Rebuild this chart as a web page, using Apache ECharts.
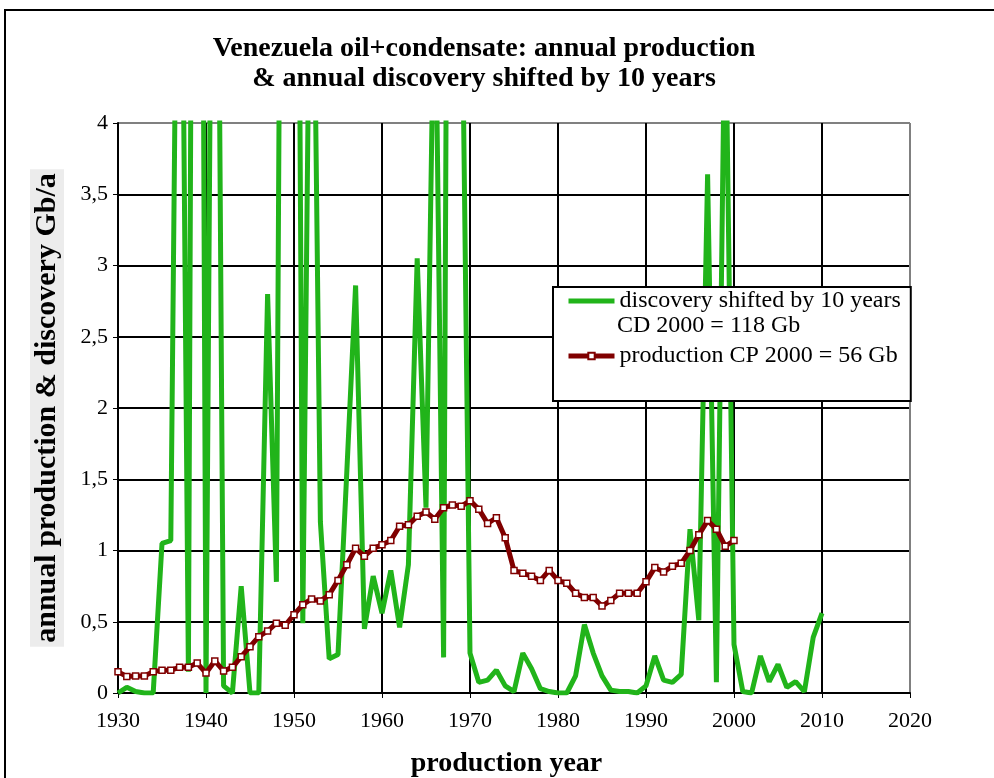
<!DOCTYPE html>
<html>
<head>
<meta charset="utf-8">
<script src="https://cdn.jsdelivr.net/npm/echarts@6/dist/echarts.min.js"></script>
<style>
  html, body { margin: 0; padding: 0; background: #fff; }
  #chart { width: 994px; height: 778px; }
</style>
</head>
<body>
<div id="chart"></div>
<script>
// years on the x axis
var discYears = [];
for (var y = 1930; y <= 2010; y++) discYears.push(y);
var prodYears = [];
for (var y2 = 1930; y2 <= 2000; y2++) prodYears.push(y2);

// annual discovery shifted by 10 years, Gb/a (values above 4 run off the top)
var discovery = [
  0.0, 0.04, 0.01, 0.0, 0.0, 1.05, 1.07, 7.5, 0.15, 15,
  0.0, 9, 0.05, 0.0, 0.75, 0.0, 0.0, 2.8, 0.78, 11.7,
  11.5, 0.49, 6.5, 1.2, 0.24, 0.27, 1.55, 2.86, 0.45, 0.82,
  0.56, 0.86, 0.46, 0.90, 3.05, 1.3, 5.3, 0.25, 14, 5.45,
  0.28, 0.075, 0.09, 0.16, 0.05, 0.01, 0.28, 0.17, 0.03, 0.01,
  0.0, 0.0, 0.12, 0.48, 0.28, 0.12, 0.02, 0.01, 0.01, 0.0,
  0.05, 0.26, 0.09, 0.075, 0.13, 1.15, 0.51, 3.64, 0.075, 5,
  0.34, 0.01, 0.0, 0.26, 0.08, 0.20, 0.04, 0.08, 0.01, 0.39,
  0.56
];

// annual production, Gb/a
var production = [
  0.15, 0.115, 0.12, 0.12, 0.15, 0.16, 0.16, 0.18, 0.18, 0.21,
  0.14, 0.225, 0.155, 0.18, 0.255, 0.325, 0.395, 0.435, 0.49, 0.475,
  0.55, 0.62, 0.66, 0.645, 0.69, 0.79, 0.90, 1.015, 0.96, 1.015,
  1.04, 1.07, 1.17, 1.18, 1.24, 1.27, 1.22, 1.30, 1.32, 1.31,
  1.35, 1.29, 1.19, 1.23, 1.09, 0.86, 0.84, 0.82, 0.79, 0.86,
  0.79, 0.77, 0.70, 0.67, 0.67, 0.61, 0.65, 0.70, 0.70, 0.70,
  0.78, 0.88, 0.85, 0.89, 0.91, 1.00, 1.11, 1.21, 1.15, 1.03,
  1.07
];

var discName = 'discovery shifted by 10 years';
var discNote = 'CD 2000 = 118 Gb';
var prodName = 'production CP 2000 = 56 Gb';

function pairs(xs, vs) {
  return xs.map(function (x, i) { return [x, vs[i]]; });
}

// last grid line of each axis is the grey plot-area border
function gridColors(n) {
  var c = [];
  for (var i = 0; i < n - 1; i++) c.push('#000');
  c.push('#808080');
  return c;
}

var serif = '"Liberation Serif", "Times New Roman", serif';
var chart = echarts.init(document.getElementById('chart'));

chart.setOption({
  animation: false,
  backgroundColor: '#fff',
  textStyle: { fontFamily: serif },
  title: {
    text: 'Venezuela oil+condensate: annual production\n& annual discovery shifted by 10 years',
    left: 479,
    top: 29,
    textAlign: 'center',
    textStyle: { fontFamily: serif, fontSize: 28, fontWeight: 'bold', color: '#000', lineHeight: 30 }
  },
  graphic: [
    {
      type: 'rect',
      shape: { x: 5, y: 10, width: 1010, height: 800 },
      style: { fill: 'none', stroke: '#000', lineWidth: 2 },
      silent: true
    },
    {
      type: 'text',
      left: 617,
      top: 314,
      z: 100,
      style: { text: discNote, font: '24px ' + serif, fill: '#000' },
      silent: true
    }
  ],
  grid: { left: 118, right: 84, top: 123, bottom: 85, outerBoundsMode: 'none' },
  legend: {
    left: 553,
    top: 287,
    orient: 'vertical',
    backgroundColor: '#fff',
    borderColor: '#000',
    borderWidth: 2,
    padding: [1, 10, 32, 13],
    itemGap: 29,
    itemWidth: 46,
    itemHeight: 8,
    textStyle: { fontFamily: serif, fontSize: 24, color: '#000', lineHeight: 26 },
    data: [
      { name: discName, itemStyle: { opacity: 0 }, lineStyle: { width: 5 } },
      { name: prodName, lineStyle: { width: 5 } }
    ]
  },
  xAxis: {
    type: 'value',
    min: 1930,
    max: 2020,
    interval: 10,
    name: 'production year',
    nameLocation: 'middle',
    nameGap: 57,
    nameTextStyle: { fontFamily: serif, fontSize: 28, fontWeight: 'bold', color: '#000', padding: [0, 15, 0, 0] },
    axisLine: { lineStyle: { color: '#000', width: 2 } },
    axisTick: { show: true, length: 5, lineStyle: { color: '#000', width: 1 } },
    axisLabel: {
      fontFamily: serif, fontSize: 22, color: '#000', margin: 17,
      formatter: function (v) { return String(v); }
    },
    splitLine: { show: true, lineStyle: { color: gridColors(10), width: 2 } }
  },
  yAxis: {
    type: 'value',
    min: 0,
    max: 4,
    interval: 0.5,
    name: 'annual production & discovery Gb/a',
    nameLocation: 'middle',
    nameRotate: 90,
    nameGap: 54,
    nameTextStyle: {
      fontFamily: serif, fontSize: 30, fontWeight: 'bold', color: '#000',
      backgroundColor: '#ececec', padding: [2, 4]
    },
    axisLine: { show: true, lineStyle: { color: '#000', width: 2 } },
    axisTick: { show: true, length: 5, lineStyle: { color: '#000', width: 1 } },
    axisLabel: {
      fontFamily: serif, fontSize: 22, color: '#000', margin: 10,
      formatter: function (v) { return String(v).replace('.', ','); }
    },
    splitLine: { show: true, lineStyle: { color: gridColors(9), width: 2 } }
  },
  series: [
    {
      name: discName,
      type: 'line',
      data: pairs(discYears, discovery),
      showSymbol: false,
      symbol: 'none',
      clip: true,
      color: '#21b41a',
      lineStyle: { color: '#21b41a', width: 5 },
      z: 2
    },
    {
      name: prodName,
      type: 'line',
      data: pairs(prodYears, production),
      symbol: 'rect',
      symbolSize: 6,
      clip: true,
      color: '#800000',
      lineStyle: { color: '#800000', width: 5 },
      itemStyle: { color: '#fff', borderColor: '#800000', borderWidth: 1.5 },
      z: 3
    }
  ]
});
</script>
</body>
</html>
